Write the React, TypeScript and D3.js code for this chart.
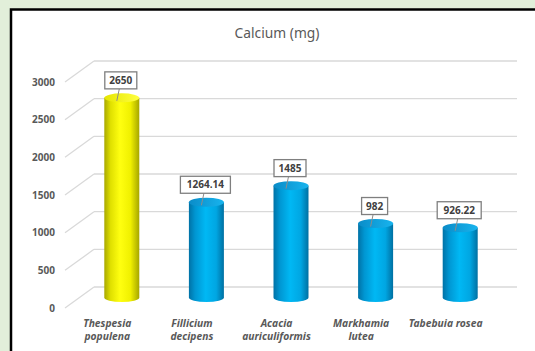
import React from "react";
import * as d3 from "d3";

const categories = [
  ["Thespesia", "populena"],
  ["Fillicium", "decipens"],
  ["Acacia", "auriculiformis"],
  ["Markhamia", "lutea"],
  ["Tabebuia rosea"],
];
const values = [2650, 1264.14, 1485, 982, 926.22];
const labels = ["2650", "1264.14", "1485", "982", "926.22"];
const yTicks = [0, 500, 1000, 1500, 2000, 2500, 3000];

const W = 535;
const H = 351;
const DX = 29; // depth offset of the 3D floor
const DY = 21;

export default function App() {
  const y = d3.scaleLinear().domain([0, 3000]).range([287, 61]);
  const x = d3
    .scaleBand<number>()
    .domain(values.map((_, i) => i))
    .range([94, 517]);
  const barW = 35;
  const ry = 4.5;
  const font = "'Noto Sans', 'Open Sans', sans-serif";

  return (
    <svg
      width={W}
      height={H}
      style={{ position: "fixed", left: 0, top: 0 }}
      viewBox={`0 0 ${W} ${H}`}
    >
      <defs>
        <linearGradient id="yelSide" x1="0" x2="1" y1="0" y2="0">
          <stop offset="0%" stopColor="#a8a800" />
          <stop offset="18%" stopColor="#e0e000" />
          <stop offset="45%" stopColor="#ffff10" />
          <stop offset="75%" stopColor="#f0f000" />
          <stop offset="100%" stopColor="#a6a600" />
        </linearGradient>
        <linearGradient id="yelTop" x1="0" x2="1" y1="0" y2="0">
          <stop offset="0%" stopColor="#e6e600" />
          <stop offset="100%" stopColor="#ffff40" />
        </linearGradient>
        <linearGradient id="bluSide" x1="0" x2="1" y1="0" y2="0">
          <stop offset="0%" stopColor="#0072a6" />
          <stop offset="18%" stopColor="#0096d2" />
          <stop offset="48%" stopColor="#00b8f4" />
          <stop offset="78%" stopColor="#00a6e2" />
          <stop offset="100%" stopColor="#0070a2" />
        </linearGradient>
        <linearGradient id="bluTop" x1="0" x2="1" y1="0" y2="0">
          <stop offset="0%" stopColor="#0a8cc8" />
          <stop offset="100%" stopColor="#18b4ee" />
        </linearGradient>
      </defs>

      {/* page background and chart frame */}
      <rect x={0} y={0} width={W} height={H} fill="#e2efda" />
      <rect x={11} y={9.5} width={W} height={H} fill="#ffffff" stroke="#000" strokeWidth={2.5} />

      <text
        x={277}
        y={38}
        textAnchor="middle"
        fontFamily={font}
        fontSize={13.8}
        fill="#595959"
      >
        Calcium (mg)
      </text>

      {/* back wall gridlines and side-wall diagonals */}
      {yTicks.map((t) => (
        <g key={t}>
          <line x1={94} x2={517} y1={y(t)} y2={y(t)} stroke="#d9d9d9" strokeWidth={1.3} />
          <line
            x1={94}
            x2={94 - DX}
            y1={y(t)}
            y2={y(t) + DY}
            stroke="#d9d9d9"
            strokeWidth={1.3}
          />
          <text
            x={55}
            y={y(t) + DY + 3.5}
            textAnchor="end"
            fontFamily={font}
            fontSize={10}
            fontWeight="bold"
            fill="#595959"
          >
            {t}
          </text>
        </g>
      ))}

      {/* cylinders */}
      {values.map((v, i) => {
        const cx = (x(i) as number) + x.bandwidth() / 2 - DX / 2;
        const y0 = y(0) + DY / 2;
        const y1 = y(v) + DY / 2;
        const l = cx - barW / 2;
        const r = cx + barW / 2;
        const side = i === 0 ? "url(#yelSide)" : "url(#bluSide)";
        const top = i === 0 ? "url(#yelTop)" : "url(#bluTop)";
        const d = `M${l},${y1} L${l},${y0} A${barW / 2},${ry} 0 0 0 ${r},${y0} L${r},${y1} Z`;
        const boxW = labels[i].length * 6 + 8;
        const boxH = 17;
        const bx = cx - 1;
        const bBottom = y1 - 9;
        return (
          <g key={i}>
            <path d={d} fill={side} />
            <ellipse cx={cx} cy={y1} rx={barW / 2} ry={ry} fill={top} />
            <line
              x1={bx - 1.5}
              y1={bBottom}
              x2={cx - 5}
              y2={y1 + 3}
              stroke="#8c8c8c"
              strokeWidth={1}
            />
            <rect
              x={bx - boxW / 2}
              y={bBottom - boxH}
              width={boxW}
              height={boxH}
              fill="#fff"
              stroke="#7f7f7f"
              strokeWidth={1.3}
            />
            <text
              x={bx}
              y={bBottom - boxH / 2 + 3.7}
              textAnchor="middle"
              fontFamily={font}
              fontSize={10}
              fontWeight="bold"
              fill="#404040"
            >
              {labels[i]}
            </text>
          </g>
        );
      })}

      {/* category labels along the front edge of the floor */}
      {categories.map((lines, i) => {
        const cx = (x(i) as number) + x.bandwidth() / 2 - DX;
        return (
          <text
            key={i}
            x={cx}
            textAnchor="middle"
            fontFamily={font}
            fontSize={10.3}
            fontWeight="bold"
            fontStyle="italic"
            fill="#595959"
          >
            {lines.map((s, j) => (
              <tspan key={j} x={cx} y={327 + j * 13}>
                {s}
              </tspan>
            ))}
          </text>
        );
      })}
    </svg>
  );
}
